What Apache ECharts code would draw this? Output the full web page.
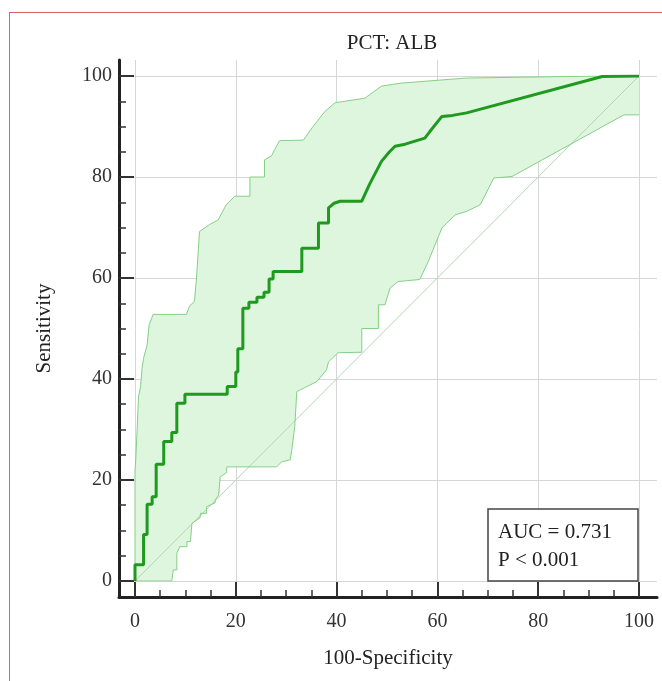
<!DOCTYPE html>
<html>
<head>
<meta charset="utf-8">
<script src="https://cdn.jsdelivr.net/npm/echarts@6.0.0/dist/echarts.min.js"></script>
<style>
  html, body { margin: 0; padding: 0; background: #fff; }
  #wrap { position: relative; width: 662px; height: 681px; }
  #chart { position: absolute; left: 0; top: 0; width: 662px; height: 681px; }
  #frame { position: absolute; left: 9px; top: 12px; right: 0; bottom: 0;
           border-left: 1px solid #d9626d; border-top: 1px solid #d9626d; pointer-events: none; }
</style>
</head>
<body>
<div id="wrap">
  <div id="chart"></div>
  <div id="frame"></div>
</div>
<script>
// ROC curve (100-Specificity, Sensitivity)
var rocCurve = [
    [0, 0], [0, 3.2], [1.7, 3.2], [1.7, 9.2], [2.4, 9.2], [2.4, 15.2], [3.4, 15.2], [3.4, 16.7],
    [4.2, 16.7], [4.2, 23.1], [5.7, 23.1], [5.7, 27.6], [7.3, 27.6], [7.3, 29.4], [8.3, 29.4],
    [8.3, 35.2], [9.9, 35.2], [9.9, 37.0], [18.3, 37.0], [18.3, 38.5], [20.0, 38.5], [20.0, 41.4],
    [20.4, 41.4], [20.4, 46.0], [21.4, 46.0], [21.4, 54.0], [22.6, 54.0], [22.6, 55.2], [24.2, 55.2],
    [24.2, 56.2], [25.6, 56.2], [25.6, 57.2], [26.6, 57.2], [26.6, 59.8], [27.4, 59.8], [27.4, 61.3],
    [33.1, 61.3], [33.1, 65.9], [36.4, 65.9], [36.4, 70.9], [38.4, 70.9], [38.4, 73.9], [39.5, 74.8],
    [40.7, 75.2], [45.0, 75.2], [46.5, 78.5], [48.9, 83.1], [50.5, 85.0], [51.6, 86.1], [53.6, 86.5],
    [57.5, 87.7], [58.5, 89.0], [60.9, 92.0], [63.0, 92.2], [65.8, 92.7], [92.7, 99.9], [100, 100]
];
// upper bound of the confidence band
var ciUpper = [
    [0, 0], [0, 21.6], [0.2, 25.0], [0.4, 29.6], [0.7, 36.5], [1.1, 38.5], [1.4, 42.1], [1.7, 44.1],
    [2.4, 46.7], [2.8, 50.7], [3.6, 52.8], [10.2, 52.8], [10.8, 54.4], [11.8, 55.4], [12.2, 60.0],
    [12.8, 69.2], [14.8, 70.6], [16.5, 71.5], [18.1, 74.5], [19.8, 76.2], [22.8, 76.2], [22.8, 80.0],
    [25.7, 80.0], [25.7, 83.4], [27.1, 84.2], [27.7, 85.4], [28.7, 87.2], [33.4, 87.3], [35.1, 89.7],
    [37.7, 93.0], [39.7, 94.7], [45.6, 95.6], [48.9, 98.0], [52.9, 98.6], [65.8, 99.6], [93, 100], [100, 100]
];
// lower bound of the confidence band
var ciLower = [
    [0, 0], [7.3, 0], [7.6, 2.2], [8.3, 2.2], [8.3, 5.5], [8.9, 6.8], [10.3, 6.8], [10.3, 7.8],
    [11.0, 7.8], [11.3, 11.4], [12.9, 12.5], [13.0, 13.4], [14.2, 13.4], [14.2, 14.7], [15.9, 15.5],
    [15.9, 16.0], [16.6, 17.0], [16.9, 20.6], [18.2, 21.5], [18.2, 22.6], [28.1, 22.6], [29.1, 23.6],
    [30.8, 24.0], [31.1, 25.9], [31.7, 30.6], [32.1, 37.5], [32.4, 37.8], [34.1, 38.5], [36.1, 39.5],
    [38.0, 41.8], [38.4, 43.4], [40.3, 45.2], [45.0, 45.3], [45.0, 50.0], [48.3, 50.0], [48.3, 54.7],
    [49.6, 54.7], [50.6, 58.0], [52.2, 59.3], [56.5, 59.7], [58.2, 63.3], [60.9, 69.9], [63.5, 72.5],
    [65.8, 73.2], [68.5, 74.5], [71.2, 79.8], [74.8, 80.1], [97.0, 92.3], [100, 92.3]
];
// reference diagonal
var diagonal = [[0, 0], [100, 100]];

var tickValues = [0, 20, 40, 60, 80, 100];
var minorTickValues = [5, 10, 15, 25, 30, 35, 45, 50, 55, 65, 70, 75, 85, 90, 95];
var aucText = ['AUC = 0.731', 'P < 0.001'];

var FONT = 'Liberation Serif';

var chart = echarts.init(document.getElementById('chart'));

// axis with long ticks, labels and grid lines
function mainAxis(grid, min, max, name, gap, pos) {
    var isX = pos === 'bottom';
    return {
        type: 'value',
        gridIndex: grid,
        position: pos,
        min: min,
        max: max,
        name: name,
        nameLocation: 'middle',
        nameGap: gap,
        nameTextStyle: { fontFamily: FONT, fontSize: 21, color: '#222' },
        axisLine: { show: true, onZero: false, lineStyle: { color: '#222', width: 3 } },
        axisTick: { show: true, inside: true, length: 15, customValues: tickValues,
                    lineStyle: { color: '#333', width: 2 } },
        axisLabel: { show: true, customValues: tickValues, margin: isX ? 15 : 7,
                     fontFamily: FONT, fontSize: 20, color: '#333' },
        splitLine: { show: true, lineStyle: { color: '#d6d6d6', width: 1 } }
    };
}
// axis for the short ticks only
function minorAxis(grid, min, max, pos) {
    return {
        type: 'value',
        gridIndex: grid,
        position: pos,
        min: min,
        max: max,
        axisLine: { show: false, onZero: false },
        axisTick: { show: true, inside: true, length: 7, customValues: minorTickValues,
                    lineStyle: { color: '#333', width: 1.5 } },
        axisLabel: { show: false },
        splitLine: { show: false }
    };
}

var option = {
    animation: false,
    backgroundColor: 'transparent',
    title: [{
        text: 'PCT: ALB',
        left: 387,
        top: 28,
        textAlign: 'center',
        textStyle: { fontFamily: FONT, fontSize: 21, fontWeight: 'normal', color: '#222' }
    }, {
        text: aucText.join('\n'),
        left: 488,
        top: 509,
        padding: [9, 26, 7, 10],
        borderColor: '#444',
        borderWidth: 1.5,
        backgroundColor: '#fff',
        textStyle: { fontFamily: FONT, fontSize: 21, fontWeight: 'normal', color: '#222', lineHeight: 28 }
    }],
    grid: [
        { left: 135, top: 76, width: 504, height: 505, outerBoundsMode: 'none', containLabel: false },
        { left: 119, top: 60, width: 538, height: 537, outerBoundsMode: 'none', containLabel: false }
    ],
    xAxis: [
        { type: 'value', gridIndex: 0, min: 0, max: 100, show: false },
        mainAxis(1, -3.17, 103.57, '100-Specificity', 51, 'bottom'),
        minorAxis(1, -3.17, 103.57, 'bottom')
    ],
    yAxis: [
        { type: 'value', gridIndex: 0, min: 0, max: 100, show: false },
        mainAxis(1, -3.17, 103.17, 'Sensitivity', 64, 'left'),
        minorAxis(1, -3.17, 103.17, 'left')
    ],
    series: [{
        type: 'custom',
        xAxisIndex: 0,
        yAxisIndex: 0,
        silent: true,
        z: 1,
        data: [0],
        renderItem: function (params, api) {
            var pts = ciUpper.concat(ciLower.slice().reverse()).map(function (p) {
                return api.coord(p);
            });
            return { type: 'polygon', shape: { points: pts }, style: { fill: '#ddf6dd' } };
        }
    }, {
        type: 'line',
        xAxisIndex: 0,
        yAxisIndex: 0,
        data: diagonal,
        symbol: 'none',
        silent: true,
        lineStyle: { color: '#b4d2b4', width: 1 }
    }, {
        type: 'line',
        xAxisIndex: 0,
        yAxisIndex: 0,
        data: ciUpper,
        symbol: 'none',
        silent: true,
        lineStyle: { color: '#86cf86', width: 1 }
    }, {
        type: 'line',
        xAxisIndex: 0,
        yAxisIndex: 0,
        data: ciLower,
        symbol: 'none',
        silent: true,
        lineStyle: { color: '#86cf86', width: 1 }
    }, {
        type: 'line',
        xAxisIndex: 0,
        yAxisIndex: 0,
        data: rocCurve,
        symbol: 'none',
        silent: true,
        lineStyle: { color: '#1f9a1f', width: 3 }
    }]
};

chart.setOption(option);
</script>
</body>
</html>
